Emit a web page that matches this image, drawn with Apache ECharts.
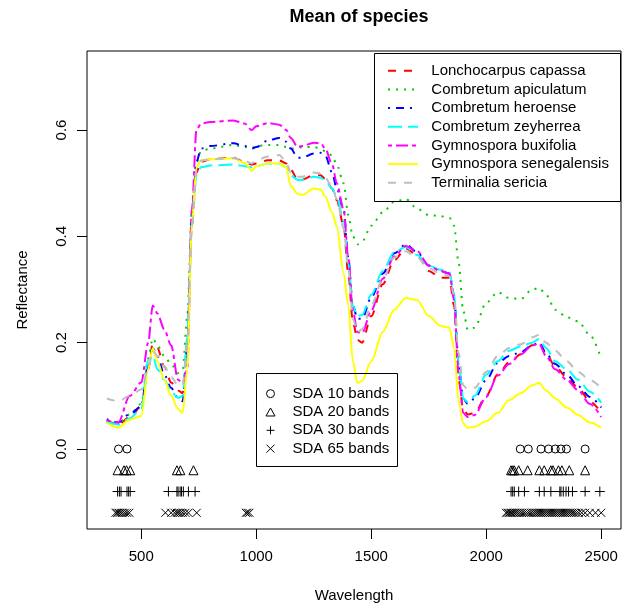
<!DOCTYPE html>
<html><head><meta charset="utf-8">
<script src="https://cdn.jsdelivr.net/npm/echarts@6/dist/echarts.min.js"></script>
<style>html,body{margin:0;padding:0;background:#fff}#c{width:629px;height:611px}</style>
</head><body><div id="c"></div>
<script>
const wavelengths = [350,400,450,500,530,550,570,600,630,660,680,700,720,740,760,800,900,950,980,1000,1050,1100,1130,1150,1180,1200,1250,1280,1300,1330,1350,1380,1400,1420,1440,1460,1500,1550,1600,1650,1700,1750,1800,1840,1860,1880,1900,1920,1950,2000,2050,2100,2150,2200,2230,2260,2300,2350,2400,2450,2500];

const lonchocarpusCapassa = [0.054,0.046,0.06,0.08,0.15,0.197,0.19,0.155,0.125,0.11,0.105,0.2,0.42,0.52,0.54,0.545,0.548,0.54,0.535,0.537,0.543,0.543,0.537,0.525,0.507,0.507,0.515,0.515,0.508,0.49,0.468,0.42,0.33,0.24,0.205,0.2,0.25,0.31,0.355,0.377,0.365,0.335,0.322,0.322,0.27,0.13,0.075,0.065,0.068,0.1,0.14,0.163,0.178,0.195,0.2,0.18,0.155,0.135,0.115,0.09,0.068];
const combretumApiculatum = [0.053,0.048,0.065,0.085,0.17,0.208,0.195,0.175,0.16,0.143,0.148,0.25,0.45,0.54,0.56,0.565,0.572,0.568,0.566,0.57,0.572,0.572,0.568,0.565,0.566,0.568,0.568,0.565,0.56,0.552,0.535,0.5,0.44,0.4,0.385,0.39,0.42,0.445,0.465,0.47,0.452,0.44,0.438,0.435,0.42,0.35,0.26,0.224,0.228,0.275,0.295,0.284,0.282,0.3,0.303,0.29,0.262,0.248,0.24,0.215,0.17];
const combretumHeroense = [0.056,0.05,0.066,0.08,0.16,0.19,0.175,0.14,0.115,0.095,0.09,0.2,0.43,0.54,0.565,0.57,0.575,0.57,0.565,0.568,0.58,0.585,0.578,0.565,0.548,0.548,0.556,0.557,0.552,0.52,0.49,0.45,0.36,0.27,0.245,0.245,0.285,0.33,0.368,0.385,0.37,0.345,0.335,0.33,0.29,0.16,0.095,0.085,0.095,0.13,0.162,0.175,0.182,0.195,0.2,0.18,0.16,0.14,0.118,0.098,0.078];
const combretumZeyherrea = [0.052,0.046,0.058,0.075,0.168,0.175,0.15,0.13,0.108,0.096,0.1,0.21,0.42,0.515,0.53,0.533,0.535,0.532,0.53,0.532,0.537,0.537,0.53,0.515,0.506,0.506,0.512,0.51,0.505,0.49,0.474,0.43,0.35,0.27,0.25,0.252,0.29,0.335,0.37,0.38,0.365,0.345,0.337,0.333,0.29,0.16,0.095,0.088,0.1,0.14,0.165,0.185,0.193,0.2,0.207,0.19,0.165,0.15,0.13,0.108,0.087];
const gymnosporaBuxifolia = [0.054,0.05,0.1,0.125,0.2,0.27,0.255,0.225,0.195,0.13,0.124,0.15,0.45,0.6,0.612,0.615,0.618,0.612,0.6,0.607,0.613,0.61,0.6,0.585,0.568,0.57,0.576,0.575,0.565,0.535,0.5,0.45,0.36,0.26,0.22,0.218,0.26,0.32,0.362,0.382,0.372,0.345,0.335,0.33,0.28,0.14,0.068,0.06,0.064,0.098,0.138,0.16,0.178,0.195,0.198,0.175,0.15,0.13,0.11,0.085,0.06];
const gymnosporaSenegalensis = [0.049,0.04,0.055,0.062,0.15,0.19,0.165,0.13,0.1,0.075,0.068,0.15,0.42,0.53,0.543,0.545,0.547,0.538,0.524,0.532,0.537,0.537,0.53,0.495,0.48,0.478,0.49,0.488,0.475,0.445,0.418,0.33,0.27,0.165,0.124,0.128,0.165,0.22,0.262,0.284,0.28,0.25,0.232,0.228,0.19,0.09,0.048,0.04,0.042,0.052,0.068,0.092,0.105,0.12,0.124,0.11,0.095,0.078,0.064,0.05,0.04];
const terminaliaSericia = [0.095,0.09,0.1,0.112,0.15,0.185,0.175,0.155,0.135,0.12,0.12,0.2,0.42,0.525,0.542,0.545,0.547,0.542,0.537,0.543,0.55,0.553,0.54,0.52,0.512,0.512,0.52,0.518,0.51,0.493,0.47,0.415,0.34,0.245,0.22,0.225,0.27,0.32,0.36,0.372,0.36,0.34,0.33,0.325,0.29,0.18,0.12,0.112,0.115,0.145,0.175,0.19,0.197,0.21,0.215,0.2,0.185,0.165,0.145,0.13,0.115];

const speciesNames = ['Lonchocarpus capassa','Combretum apiculatum','Combretum heroense','Combretum zeyherrea','Gymnospora buxifolia','Gymnospora senegalensis','Terminalia sericia'];
const speciesValues = [lonchocarpusCapassa, combretumApiculatum, combretumHeroense, combretumZeyherrea, gymnosporaBuxifolia, gymnosporaSenegalensis, terminaliaSericia];

const bandNames = ['SDA 10 bands','SDA 20 bands','SDA 30 bands','SDA 65 bands'];
const bands10 = [401,438,2148,2183,2238,2271,2300,2325,2349,2430];
const bands20 = [397,425,436,452,655,670,727,2108,2115,2122,2141,2180,2231,2252,2281,2290,2314,2329,2361,2430];
const bands30 = [397,405,412,438,445,452,618,655,660,669,675,683,705,734,2108,2115,2122,2141,2166,2231,2252,2281,2320,2325,2335,2347,2358,2375,2430,2494];
const bands65 = [388,395,402,410,418,428,438,448,605,630,645,655,662,670,680,692,705,741,955,962,970,2086,2093,2100,2106,2112,2120,2128,2136,2145,2155,2165,2175,2185,2195,2205,2214,2222,2230,2238,2246,2254,2262,2270,2278,2286,2294,2302,2310,2318,2326,2334,2342,2350,2358,2366,2374,2382,2392,2402,2415,2430,2450,2475,2500];
const bandSets = [bands10, bands20, bands30, bands65];
const bandRowLevels = [0, -0.04, -0.08, -0.12];

const xTicks = [500,1000,1500,2000,2500];
const yTicks = [0.0,0.2,0.4,0.6];

// styles
const FONT = 'Liberation Sans, Arial, Helvetica, sans-serif';
const lineColors = ['#FF0000','#00CD00','#0000FF','#00FFFF','#FF00FF','#FFFF00','#BEBEBE'];
const lineDashes = [[8,8],[2,6],[2,6,8,6],[14,6],[4,4,12,4],'solid',[8,8]];
const bandSymbols = ['circle','triangle','path://M0,5L10,5M5,0L5,10','path://M0,0L10,10M10,0L0,10'];
const bandSymbolSizes = [8,9,10,8];

const series = [];
speciesNames.forEach((name, i) => {
  series.push({
    name: name, type: 'line', symbol: 'none', showSymbol: false,
    smooth: 0.3, smoothMonotone: 'x',
    data: wavelengths.map((w, j) => [w, speciesValues[i][j]]),
    lineStyle: {color: lineColors[i], width: 2, type: lineDashes[i]},
    itemStyle: {color: lineColors[i]},
    silent: true, z: 2 + i * 0.01
  });
});
bandNames.forEach((name, i) => {
  series.push({
    name: name, type: 'scatter', symbol: bandSymbols[i], symbolSize: bandSymbolSizes[i],
    data: bandSets[i].map(w => [w, bandRowLevels[i]]),
    itemStyle: {color: 'transparent', borderColor: '#000', borderWidth: 1, opacity: 1},
    silent: true, z: 3
  });
});

const chart = echarts.init(document.getElementById('c'), null, {renderer: 'canvas'});
chart.setOption({
  animation: false,
  backgroundColor: '#fff',
  title: {
    text: 'Mean of species', left: 354, top: 3, textAlign: 'center',
    textStyle: {fontFamily: FONT, fontSize: 18, fontWeight: 'bold', color: '#000'}
  },
  grid: {left: 87, top: 51, width: 534, height: 478, show: true, borderColor: '#000', borderWidth: 1, backgroundColor: 'transparent'},
  xAxis: {
    type: 'value', min: 264, max: 2586,
    name: 'Wavelength', nameLocation: 'middle', nameGap: 59,
    nameTextStyle: {fontFamily: FONT, fontSize: 15, color: '#000'},
    axisLine: {show: false, onZero: false},
    splitLine: {show: false},
    axisTick: {show: true, inside: false, length: 10, customValues: xTicks, lineStyle: {color: '#000', width: 1}},
    axisLabel: {customValues: xTicks, margin: 20, fontFamily: FONT, fontSize: 15, color: '#000',
      formatter: v => String(Math.round(v))}
  },
  yAxis: {
    type: 'value', min: -0.1505, max: 0.7486,
    name: 'Reflectance', nameLocation: 'middle', nameGap: 57, nameRotate: 90,
    nameTextStyle: {fontFamily: FONT, fontSize: 15, color: '#000'},
    axisLine: {show: false, onZero: false},
    splitLine: {show: false},
    axisTick: {show: true, inside: false, length: 10, customValues: yTicks, lineStyle: {color: '#000', width: 1}},
    axisLabel: {customValues: yTicks, rotate: 90, margin: 18, fontFamily: FONT, fontSize: 15, color: '#000',
      formatter: v => Number(v).toFixed(1)}
  },
  legend: [
    {
      data: speciesNames, orient: 'vertical', left: 387, top: 61.4,
      itemWidth: 30, itemHeight: 18.67, itemGap: 0, padding: 0,
      selectedMode: false,
      itemStyle: {opacity: 0},
      formatter: n => '  ' + n,
      textStyle: {fontFamily: FONT, fontSize: 15, color: '#000', lineHeight: 18.67}
    },
    {
      data: bandNames, orient: 'vertical', left: 265.5, top: 384.5,
      itemWidth: 9, itemHeight: 8, itemGap: 0, padding: 0,
      selectedMode: false,
      itemStyle: {borderWidth: 1, color: 'transparent', borderColor: '#000'},
      formatter: n => '   ' + n,
      textStyle: {fontFamily: FONT, fontSize: 15, color: '#000', lineHeight: 18.33}
    }
  ],
  graphic: [
    {type: 'rect', shape: {x: 374.5, y: 53.5, width: 246, height: 148}, style: {fill: 'none', stroke: '#000', lineWidth: 1}, z: 10, silent: true},
    {type: 'rect', shape: {x: 256.5, y: 373.5, width: 141, height: 93}, style: {fill: 'none', stroke: '#000', lineWidth: 1}, z: 10, silent: true}
  ],
  series: series
});
</script></body></html>
